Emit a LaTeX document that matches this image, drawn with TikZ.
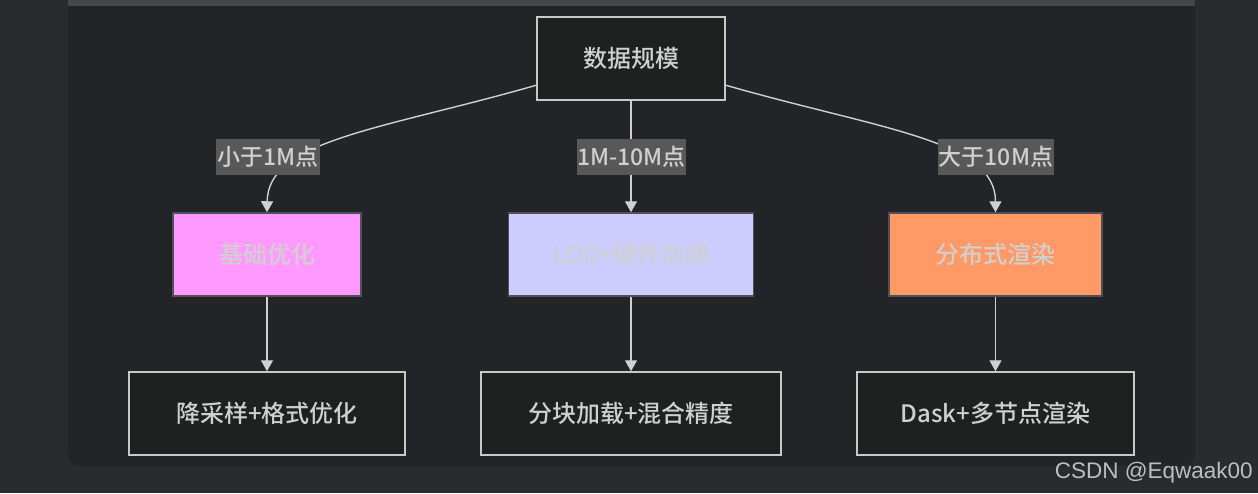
\documentclass[tikz,border=0pt]{standalone}
\usepackage{fontspec}
\setmainfont{Noto Sans CJK SC Medium}
\newfontfamily\wmfont{Liberation Sans}
\usetikzlibrary{arrows.meta}
\definecolor{outerbg}{HTML}{2A2B2F}
\definecolor{panelbg}{HTML}{232428}
\definecolor{stripc}{HTML}{45464B}
\definecolor{darkfill}{HTML}{1F2020}
\definecolor{lightline}{HTML}{C8C8C8}
\definecolor{lighttext}{HTML}{D0D0D0}
\definecolor{labelbg}{HTML}{585858}
\definecolor{pinkf}{HTML}{FF99FF}
\definecolor{lavf}{HTML}{CCCCFF}
\definecolor{orangef}{HTML}{FF9966}
\definecolor{colline}{HTML}{50505A}
\definecolor{edgec}{HTML}{D0D0D0}
\definecolor{wmc}{HTML}{BEBEBE}
\tikzset{
  darkbox/.style={draw=lightline, line width=1.5pt, fill=darkfill, text=lighttext,
    minimum height=83pt, font=\fontsize{24}{28}\selectfont, inner sep=0pt},
  colbox/.style={draw=colline, line width=1.5pt, text=lighttext,
    minimum height=83pt, font=\fontsize{24}{28}\selectfont, inner sep=0pt},
  edgelabel/.style={fill=labelbg, text=lighttext, minimum height=36pt, inner sep=0pt,
    font=\fontsize{23}{27}\selectfont},
  conn/.style={draw=edgec, line width=1.4pt, -{Triangle[width=12pt,length=11pt]}},
}
\begin{document}
\begin{tikzpicture}[x=1pt,y=-1pt]
\useasboundingbox (0,0) rectangle (1258,493);
\fill[outerbg] (0,0) rectangle (1258,493);
\fill[panelbg] (68,0) [rounded corners=12pt] -- (68,466) -- (1195,466) [sharp corners] -- (1195,0) -- cycle;
\fill[stripc] (68,0) rectangle (1195,6);

\node[darkbox, minimum width=188pt] (top) at (631,58.5) {数据规模};
\node[colbox, fill=pinkf, minimum width=188pt] (n1) at (267,254.5) {基础优化};
\node[colbox, fill=lavf, minimum width=245pt] (n2) at (631,254.5) {LOD+硬件加速};
\node[colbox, fill=orangef, minimum width=213pt] (n3) at (995.5,254.5) {分布式渲染};
\node[darkbox, minimum width=276pt] (b1) at (267,413.5) {降采样+格式优化};
\node[darkbox, minimum width=300pt] (b2) at (631,413.5) {分块加载+混合精度};
\node[darkbox, minimum width=277pt] (b3) at (995.5,413.5) {Dask+多节点渲染};

\coordinate (s1) at (537,85);
\coordinate (s3) at (725,85);
\draw[conn] (s1) .. controls (380,130) and (268,140) .. (n1.north);
\draw[conn] (top.south) -- (n2.north);
\draw[conn] (s3) .. controls (882,130) and (995.5,140) .. (n3.north);
\draw[conn] (n1.south) -- (b1.north);
\draw[conn] (n2.south) -- (b2.north);
\draw[conn] (n3.south) -- (b3.north);

\node[edgelabel, minimum width=104pt] (l1) at (268,157) {小于1M点};
\node[edgelabel, minimum width=107pt] (l2) at (631.5,157) {1M-10M点};
\node[edgelabel, minimum width=116pt] (l3) at (996,157) {大于10M点};

\node[anchor=base east, text=wmc, inner sep=0pt, font=\wmfont\fontsize{22.5}{26}\selectfont] (wm) at (1253,478) {CSDN @Eqwaak00};
\end{tikzpicture}
\end{document}
